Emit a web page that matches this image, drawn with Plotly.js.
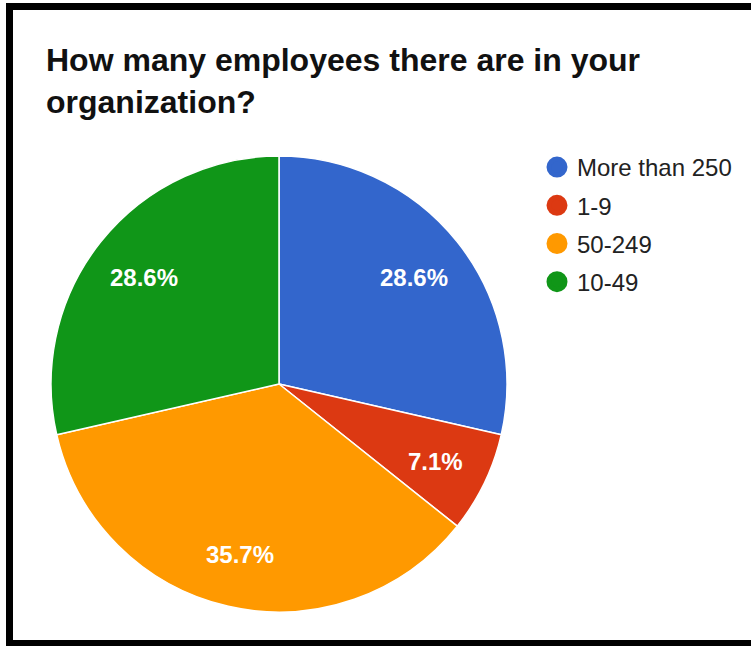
<!DOCTYPE html>
<html>
<head>
<meta charset="utf-8">
<script src="https://cdn.plot.ly/plotly-3.0.1.min.js"></script>
<style>
  html, body { margin: 0; padding: 0; background: #fff; }
  #chart { width: 751px; height: 646px; }
</style>
</head>
<body>
<div id="chart"></div>
<script>
const categories = ["More than 250", "1-9", "50-249", "10-49"];
const counts = [4, 1, 5, 4];
const colors = ["#3366cc", "#dc3912", "#ff9900", "#109618"];
const titleText = "How many employees there are in your<br>organization?";

const W = 751, H = 646;
const px = v => v / W;
const py = v => 1 - v / H;
const FONT = "Arial, 'Liberation Sans', sans-serif";

const domX = [px(51), px(507)];
const domY = [py(612), py(156)];

const pie = {
  type: "pie",
  labels: categories,
  values: counts,
  sort: false,
  direction: "clockwise",
  rotation: 0,
  marker: { colors: colors, line: { color: "#ffffff", width: 1.5 } },
  textinfo: "none",
  domain: { x: domX, y: domY },
  showlegend: false,
  hoverinfo: "label+percent"
};

// percentage labels placed along each slice's bisector (derived from the data)
const total = counts.reduce((a, b) => a + b, 0);
const cxPx = (domX[0] + domX[1]) / 2 * W;
const cyPx = (1 - (domY[0] + domY[1]) / 2) * H;
const R = Math.min((domX[1] - domX[0]) * W, (domY[1] - domY[0]) * H) / 2;
let cum = 0;
const labelAnnotations = counts.map((v, i) => {
  const mid = (cum + v / 2) / total * 2 * Math.PI;
  cum += v;
  const r = R * 0.76;
  return {
    xref: "paper", yref: "paper",
    x: px(cxPx + r * Math.sin(mid)),
    y: py(cyPx - r * Math.cos(mid) + 2),
    text: (v / total * 100).toFixed(1) + "%",
    showarrow: false,
    xanchor: "center", yanchor: "middle",
    font: { family: FONT, size: 24, color: "#ffffff", weight: "bold" }
  };
});

const legendTraces = categories.map((c, i) => ({
  type: "scatter",
  mode: "markers",
  x: [null], y: [null],
  name: c,
  legendgroup: "g" + i,
  marker: { color: colors[i], size: 16, symbol: "circle", line: { color: colors[i], width: 5 } },
  showlegend: true,
  hoverinfo: "skip"
}));

const black = "#000000";
const layout = {
  width: W, height: H,
  margin: { l: 0, r: 0, t: 0, b: 0 },
  paper_bgcolor: "#ffffff",
  plot_bgcolor: "#ffffff",
  font: { family: FONT, color: "#222222" },
  title: {
    text: titleText,
    x: px(46), xanchor: "left", xref: "paper",
    y: py(71), yanchor: "top", yref: "paper",
    font: { family: FONT, size: 32, color: "#111111", weight: "bold" }
  },
  xaxis: { visible: false, domain: [0.9, 0.95] },
  yaxis: { visible: false, domain: [0.0, 0.05] },
  showlegend: true,
  legend: {
    x: px(537), xanchor: "left",
    y: py(145), yanchor: "top",
    font: { family: FONT, size: 24, color: "#222222" },
    bgcolor: "rgba(0,0,0,0)",
    traceorder: "grouped",
    tracegroupgap: 4
  },
  annotations: labelAnnotations,
  shapes: [
    { type: "rect", xref: "paper", yref: "paper", x0: px(6), x1: px(13), y0: py(646), y1: py(3), fillcolor: black, line: { width: 0 } },
    { type: "rect", xref: "paper", yref: "paper", x0: px(6), x1: px(751), y0: py(10), y1: py(3), fillcolor: black, line: { width: 0 } },
    { type: "rect", xref: "paper", yref: "paper", x0: px(6), x1: px(751), y0: py(646), y1: py(640), fillcolor: black, line: { width: 0 } }
  ]
};

Plotly.newPlot("chart", [pie].concat(legendTraces), layout, { displayModeBar: false, staticPlot: true });
</script>
</body>
</html>
